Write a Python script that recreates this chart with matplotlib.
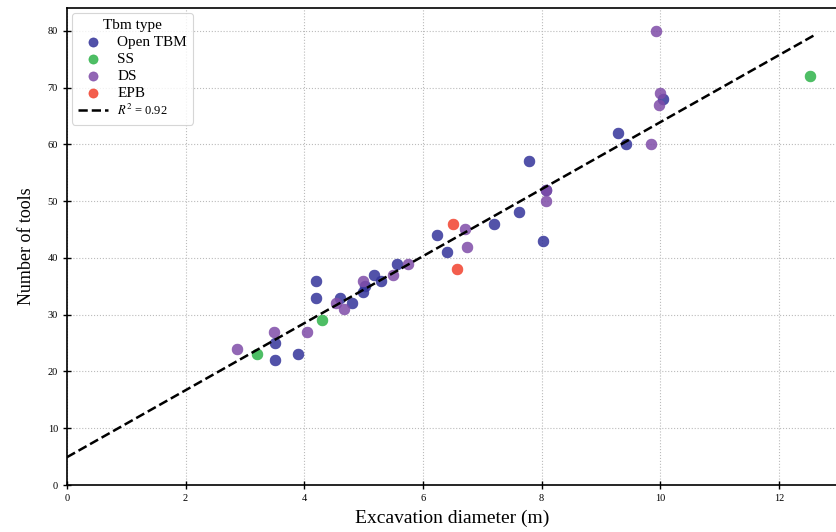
import numpy as np
import matplotlib
matplotlib.use("Agg")
import matplotlib.pyplot as plt

plt.rcParams['font.family'] = ['Liberation Serif', 'DejaVu Serif']
plt.rcParams['mathtext.fontset'] = 'stix'

# Data
open_x = [3.51, 3.51, 3.90, 4.20, 4.20, 4.60, 4.80, 4.99, 5.03, 5.17, 5.30, 5.56,
          6.24, 6.40, 7.20, 7.62, 7.79, 8.03, 8.07, 9.29, 9.43, 10.05]
open_y = [25, 22, 23, 36, 33, 33, 32, 34, 35, 37, 36, 39,
          44, 41, 46, 48, 57, 43, 52, 62, 60, 68]
ss_x = [3.20, 4.30, 12.52]
ss_y = [23, 29, 72]
ds_x = [2.86, 3.49, 4.04, 4.53, 4.67, 4.99, 5.50, 5.74, 6.71, 6.74, 8.07, 8.07,
        9.85, 9.93, 9.98, 9.99]
ds_y = [24, 27, 27, 32, 31, 36, 37, 39, 45, 42, 52, 50,
        60, 80, 67, 69]
epb_x = [6.51, 6.57]
epb_y = [46, 38]

fit_intercept = 4.9
fit_slope = 5.9
r2_label = '$R^2$ = 0.92'

colors = {'Open TBM': '#34349a', 'SS': '#2fb34a', 'DS': '#7f4ca8', 'EPB': '#f2422e'}

fig = plt.figure(figsize=(8.37, 5.32), dpi=100)
ax = fig.add_axes([0.080, 0.0883, 0.9215, 0.8966])

for name, xs, ys in [('Open TBM', open_x, open_y), ('SS', ss_x, ss_y),
                     ('DS', ds_x, ds_y), ('EPB', epb_x, epb_y)]:
    ax.scatter(xs, ys, s=60, color=colors[name], alpha=0.85, edgecolors=colors[name],
               linewidths=0.5, label=name, zorder=3)

all_x = np.array(open_x + ss_x + ds_x + epb_x)
xl = np.array([0, all_x.max() + 0.08])
ax.plot(xl, fit_intercept + fit_slope * xl, 'k--', lw=1.8, label=r2_label, zorder=4)

ax.set_xlim(0, 13)
ax.set_ylim(0, 84)
ax.set_xticks(np.arange(0, 14, 2))
ax.set_yticks(np.arange(0, 81, 10))
ax.tick_params(labelsize=7.5, direction='inout', length=6, width=1)
ax.grid(True, linestyle=':', color='#bbbbbb', lw=0.8)
ax.set_axisbelow(True)
ax.spines['right'].set_visible(False)
for s in ['left', 'bottom', 'top']:
    ax.spines[s].set_linewidth(1.2)

ax.set_xlabel('Excavation diameter (m)', fontsize=14, labelpad=5)
ax.set_ylabel('Number of tools', fontsize=13, labelpad=9)

leg = ax.legend(title='Tbm type', loc='upper left', fontsize=11, title_fontsize=11,
                frameon=True, edgecolor='#cccccc', handletextpad=0.6,
                borderpad=0.4, labelspacing=0.22, handlelength=2.0,
                borderaxespad=0.3, markerscale=0.85)
leg.get_frame().set_linewidth(0.8)
for t in leg.get_texts():
    if t.get_text() == r2_label:
        t.set_fontsize(9)

fig.savefig('out.png', dpi=100)
